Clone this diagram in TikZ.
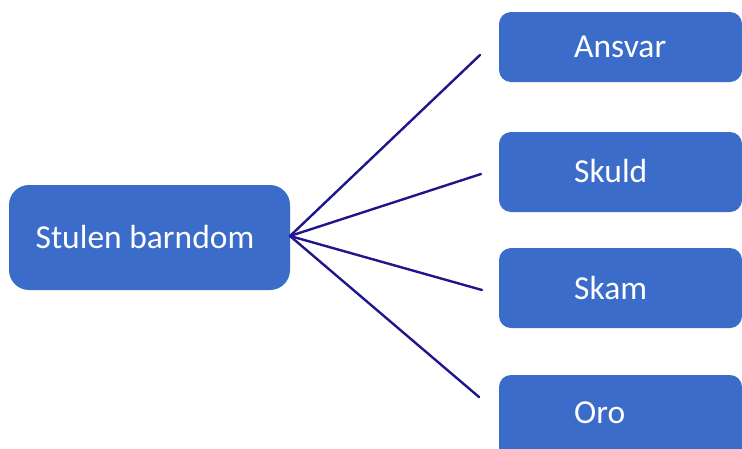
\documentclass[tikz,border=0pt]{standalone}
\usepackage{fontspec}
\setmainfont{Carlito}
\definecolor{boxblue}{RGB}{59,108,201}
\definecolor{linknavy}{RGB}{32,22,140}
\tikzset{
  box/.style={fill=boxblue, draw=none, inner sep=0pt},
  lbl/.style={text=white, inner sep=0pt, font=\fontsize{33.5}{40}\selectfont},
  link/.style={draw=linknavy, line width=2.4pt, line cap=round}
}
\begin{document}
\begin{tikzpicture}[x=1pt, y=-1pt]
  \useasboundingbox (0,0) rectangle (742,448);
  \clip (0,0) rectangle (742,448);

  % central topic
  \fill[boxblue, rounded corners=20pt] (9,185) rectangle (290,290);
  \node[lbl, anchor=base] (root) at (145,248) {Stulen barndom};
  \coordinate (hub) at (290,236);

  % branch boxes
  \fill[boxblue, rounded corners=12pt] (499,12)  rectangle (742,82);
  \fill[boxblue, rounded corners=12pt] (499,132) rectangle (742,212);
  \fill[boxblue, rounded corners=12pt] (499,248) rectangle (742,328);
  \fill[boxblue, rounded corners=12pt] (499,375) rectangle (742,462);

  \node[lbl, anchor=base west] (ansvar) at (574,57)  {Ansvar};
  \node[lbl, anchor=base west] (skuld)  at (574,182) {Skuld};
  \node[lbl, anchor=base west] (skam)   at (574,299) {Skam};
  \node[lbl, anchor=base west] (oro)    at (574,423) {Oro};

  % connector ends just left of each box
  \coordinate (e1) at (480,55);
  \coordinate (e2) at (481,174);
  \coordinate (e3) at (482,290);
  \coordinate (e4) at (479,397);

  \draw[link] (hub) -- (e1);
  \draw[link] (hub) -- (e2);
  \draw[link] (hub) -- (e3);
  \draw[link] (hub) -- (e4);
\end{tikzpicture}
\end{document}
